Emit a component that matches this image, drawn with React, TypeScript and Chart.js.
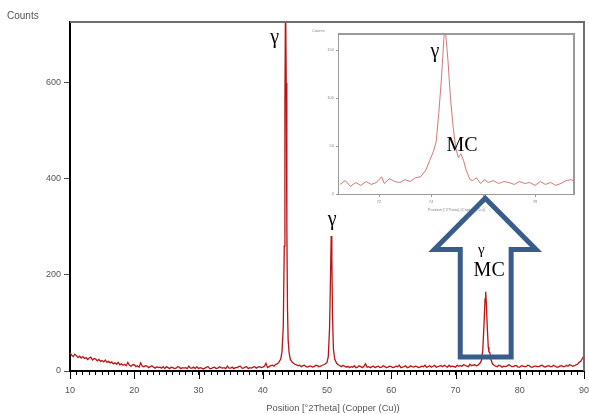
import React, { useEffect, useRef } from 'react';
import { Chart, registerables } from 'chart.js';

Chart.register(...registerables);

// ---------- main scan ----------
const twoTheta = [
  10, 10.25, 10.5, 10.75, 11, 11.25, 11.5, 11.75,
  12, 12.25, 12.5, 12.75, 13, 13.25, 13.5, 13.75,
  14, 14.25, 14.5, 14.75, 15, 15.25, 15.5, 15.75,
  16, 16.25, 16.5, 16.75, 17, 17.25, 17.5, 17.75,
  18, 18.25, 18.5, 18.75, 19, 19.25, 19.5, 19.75,
  20, 20.25, 20.5, 20.75, 21, 21.25, 21.5, 21.75,
  22, 22.25, 22.5, 22.75, 23, 23.25, 23.5, 23.75,
  24, 24.25, 24.5, 24.75, 25, 25.25, 25.5, 25.75,
  26, 26.25, 26.5, 26.75, 27, 27.25, 27.5, 27.75,
  28, 28.25, 28.5, 28.75, 29, 29.25, 29.5, 29.75,
  30, 30.25, 30.5, 30.75, 31, 31.25, 31.5, 31.75,
  32, 32.25, 32.5, 32.75, 33, 33.25, 33.5, 33.75,
  34, 34.25, 34.5, 34.75, 35, 35.25, 35.5, 35.75,
  36, 36.25, 36.5, 36.75, 37, 37.25, 37.5, 37.75,
  38, 38.25, 38.5, 38.75, 39, 39.25, 39.5, 39.75,
  40, 40.25, 40.5, 40.75, 41, 41.25, 41.5, 41.75,
  42, 42.25,
  42.5, 42.8, 43, 43.2, 43.35, 43.45, 43.55, 43.65, 43.75, 43.85, 43.95, 44.1, 44.3, 44.6, 45,
  45.25, 45.5, 45.75, 46, 46.25, 46.5, 46.75, 47, 47.25, 47.5,
  47.75, 48, 48.25, 48.5, 48.75, 49, 49.25, 49.5, 49.75,
  50, 50.2, 50.4, 50.55, 50.65, 50.75, 50.85, 51, 51.2, 51.5,
  51.75, 52, 52.25, 52.5, 52.75, 53, 53.25, 53.5,
  53.75, 54, 54.25, 54.5, 54.75, 55, 55.25, 55.5,
  55.75, 56, 56.25, 56.5, 56.75, 57, 57.25, 57.5,
  57.75, 58, 58.25, 58.5, 58.75, 59, 59.25, 59.5,
  59.75, 60, 60.25, 60.5, 60.75, 61, 61.25, 61.5,
  61.75, 62, 62.25, 62.5, 62.75, 63, 63.25, 63.5,
  63.75, 64, 64.25, 64.5, 64.75, 65, 65.25, 65.5,
  65.75, 66, 66.25, 66.5, 66.75, 67, 67.25, 67.5,
  67.75, 68, 68.25, 68.5, 68.75, 69, 69.25, 69.5,
  69.75, 70, 70.25, 70.5, 70.75, 71, 71.25, 71.5,
  71.75, 72, 72.25, 72.5, 72.75, 73, 73.25, 73.5,
  73.8, 74.05, 74.25, 74.45, 74.6, 74.7, 74.8, 74.95, 75.1, 75.2, 75.35, 75.5, 75.75,
  76, 76.25, 76.5, 76.75, 77, 77.25, 77.5, 77.75,
  78, 78.25, 78.5, 78.75, 79, 79.25, 79.5, 79.75,
  80, 80.25, 80.5, 80.75, 81, 81.25, 81.5, 81.75,
  82, 82.25, 82.5, 82.75, 83, 83.25, 83.5, 83.75,
  84, 84.25, 84.5, 84.75, 85, 85.25, 85.5, 85.75,
  86, 86.25, 86.5, 86.75, 87, 87.25, 87.5, 87.75,
  88, 88.25, 88.5, 88.75, 89, 89.25, 89.5, 89.75,
  90,
];

const counts = [
  38, 33, 30, 35, 32, 28, 31, 27,
  30, 26, 28, 24, 27, 29, 23, 26,
  25, 21, 24, 20, 22, 19, 23, 18,
  20, 17, 19, 15, 17, 14, 18, 13,
  15, 12, 14, 11, 18, 12, 10, 13,
  13, 9, 11, 8, 17, 10, 9, 11,
  10, 7, 9, 11, 8, 6, 9, 7,
  8, 6, 9, 5, 9, 7, 5, 8,
  7, 5, 6, 9, 8, 5, 7, 6,
  7, 5, 10, 6, 6, 8, 5, 9,
  5, 7, 6, 4, 6, 8, 9, 5,
  5, 7, 8, 5, 6, 9, 7, 6,
  7, 5, 10, 6, 6, 8, 5, 7,
  7, 9, 10, 6, 6, 8, 9, 5,
  7, 6, 8, 9, 6, 8, 9, 7,
  8, 10, 16, 7, 9, 11, 12, 10,
  14, 15,
  18, 25, 40, 95, 260, 560, 790, 600, 300, 130, 65, 38, 24, 18, 14,
  13, 11, 12, 9, 11, 12, 9, 8, 10, 10,
  8, 9, 12, 11, 9, 10, 12, 13, 15,
  18, 30, 90, 200, 281, 240, 120, 45, 25, 16,
  13, 11, 9, 12, 10, 8, 10, 7,
  9, 8, 11, 7, 8, 11, 9, 7,
  10, 15, 8, 9, 7, 9, 10, 7,
  9, 10, 7, 8, 11, 9, 7, 8,
  10, 9, 7, 8, 10, 9, 12, 7,
  8, 9, 11, 7, 8, 11, 9, 8,
  10, 9, 7, 8, 10, 9, 12, 8,
  9, 11, 8, 10, 12, 8, 9, 10,
  11, 9, 12, 10, 8, 12, 9, 10,
  9, 8, 12, 10, 11, 10, 13, 12,
  10, 9, 14, 11, 12, 13, 11, 12,
  16, 22, 45, 100, 150, 165, 140, 90, 50, 40, 38, 25, 15,
  12, 10, 9, 12, 11, 8, 10, 9,
  10, 13, 12, 9, 9, 11, 11, 8,
  8, 11, 10, 9, 9, 12, 11, 8,
  8, 10, 10, 9, 9, 11, 12, 9,
  8, 10, 11, 9, 9, 12, 10, 8,
  8, 10, 11, 9, 9, 12, 10, 13,
  12, 10, 11, 13, 14, 18, 20, 26,
  32,
];

const mainXTicks = [10, 20, 30, 40, 50, 60, 70, 80, 90];
const mainYTicks = [0, 200, 400, 600];

// ---------- inset (zoom on the 74-75 deg peak) ----------
const insetTheta = [
  70.5, 70.7, 70.9, 71.1, 71.3, 71.5, 71.7, 71.9, 72.1, 72.2,
  72.4, 72.6, 72.8, 73.0, 73.2, 73.4, 73.6, 73.8, 73.95, 74.1,
  74.2, 74.3, 74.4, 74.5, 74.55, 74.65, 74.75, 74.85, 74.95, 75.05,
  75.15, 75.25, 75.35, 75.5, 75.6, 75.75, 75.9, 76.05, 76.2, 76.4,
  76.6, 76.8, 77.0, 77.2, 77.4, 77.6, 77.8, 78.0, 78.2, 78.4,
  78.6, 78.8, 79.0, 79.2, 79.4, 79.5,
];
const insetCounts = [
  10, 14, 8, 12, 9, 13, 10, 12, 18, 11,
  16, 13, 12, 15, 13, 17, 18, 25, 35, 45,
  55, 85, 120, 165, 172, 140, 100, 70, 48, 38,
  42, 35, 25, 15, 14, 17, 11, 15, 12, 14,
  11, 13, 12, 10, 13, 11, 12, 9, 13, 10,
  12, 9, 11, 14, 15, 13,
];
const insetXTicks = [72, 74, 76, 78];
const insetYTicks = [0, 50, 100, 150];

const xTitle = 'Position [°2Theta] (Copper (Cu))';
const yTitle = 'Counts';

// annotations (data coordinates)
const mainLabels = [
  { text: 'γ', x: 41.84, y: 694, size: 20 },
  { text: 'γ', x: 50.8, y: 315, size: 20 },
  { text: 'γ', x: 74.0, y: 252, size: 15 },
  { text: 'MC', x: 75.24, y: 208, size: 20 },
];
const insetLabels = [
  { text: 'γ', x: 74.15, y: 148, size: 20 },
  { text: 'MC', x: 75.19, y: 50, size: 20 },
];
const arrowShape = {
  tipX: 74.62, tipY: 360,
  headLeft: 66.7, headRight: 82.54, headY: 253,
  shaftLeft: 70.74, shaftRight: 78.66, baseY: 29,
};

const SANS = "'Liberation Sans', Arial, sans-serif";
const SERIF = "'Liberation Serif', 'Times New Roman', serif";

export default function App() {
  const mainRef = useRef<HTMLCanvasElement>(null);
  const insetRef = useRef<HTMLCanvasElement>(null);

  useEffect(() => {
    if (!mainRef.current || !insetRef.current) return;

    const mainPlugin = {
      id: 'mainOverlay',
      afterDraw(chart: any) {
        const { ctx, chartArea: a, scales } = chart;
        const x = scales.x, y = scales.y;
        ctx.save();
        ctx.strokeStyle = '#6e6e6e';
        ctx.lineWidth = 2;
        ctx.beginPath();
        ctx.moveTo(a.left, a.top);
        ctx.lineTo(a.right, a.top);
        ctx.lineTo(a.right, a.bottom);
        ctx.stroke();
        ctx.strokeStyle = '#000';
        ctx.lineWidth = 1;
        mainXTicks.forEach((v) => {
          const px = Math.round(x.getPixelForValue(v)) + 0.5;
          ctx.beginPath();
          ctx.moveTo(px, a.bottom);
          ctx.lineTo(px, a.bottom + 8);
          ctx.stroke();
        });
        const s = arrowShape;
        ctx.strokeStyle = '#385D8A';
        ctx.lineWidth = 5;
        ctx.lineJoin = 'miter';
        ctx.beginPath();
        ctx.moveTo(x.getPixelForValue(s.tipX), y.getPixelForValue(s.tipY));
        ctx.lineTo(x.getPixelForValue(s.headRight), y.getPixelForValue(s.headY));
        ctx.lineTo(x.getPixelForValue(s.shaftRight), y.getPixelForValue(s.headY));
        ctx.lineTo(x.getPixelForValue(s.shaftRight), y.getPixelForValue(s.baseY));
        ctx.lineTo(x.getPixelForValue(s.shaftLeft), y.getPixelForValue(s.baseY));
        ctx.lineTo(x.getPixelForValue(s.shaftLeft), y.getPixelForValue(s.headY));
        ctx.lineTo(x.getPixelForValue(s.headLeft), y.getPixelForValue(s.headY));
        ctx.closePath();
        ctx.stroke();
        ctx.fillStyle = '#000';
        ctx.textAlign = 'center';
        ctx.textBaseline = 'middle';
        mainLabels.forEach((l) => {
          ctx.font = `${l.size}px ${SERIF}`;
          ctx.fillText(l.text, x.getPixelForValue(l.x), y.getPixelForValue(l.y));
        });
        ctx.fillStyle = '#555';
        ctx.font = `10px ${SANS}`;
        ctx.textAlign = 'left';
        ctx.fillText(yTitle, 7, 16);
        ctx.textAlign = 'center';
        ctx.font = `9.3px ${SANS}`;
        ctx.fillText(xTitle, 333, 408);
        ctx.restore();
      },
    };

    const main = new Chart(mainRef.current, {
      type: 'line',
      data: {
        datasets: [
          {
            data: twoTheta.map((t, i) => ({ x: t, y: counts[i] })),
            borderColor: 'rgb(185,20,20)',
            borderWidth: 1.3,
            pointRadius: 0,
            tension: 0,
            fill: false,
          },
        ],
      },
      options: {
        animation: false,
        responsive: false,
        maintainAspectRatio: false,
        layout: { padding: { left: 0, top: 22, right: 5, bottom: 0 } },
        plugins: { legend: { display: false }, tooltip: { enabled: false } },
        scales: {
          x: {
            type: 'linear',
            min: 10,
            max: 90,
            afterFit: (s: any) => { s.height = 43; s.paddingLeft = 0; s.paddingRight = 0; },
            afterBuildTicks: (s: any) => {
              const t: any[] = [];
              for (let v = 10; v <= 90; v++) t.push({ value: v });
              s.ticks = t;
            },
            ticks: {
              autoSkip: false,
              maxRotation: 0,
              padding: 10,
              color: '#555',
              font: { family: SANS, size: 9 },
              callback: (v: any) => (mainXTicks.includes(v) ? String(v) : ''),
            },
            grid: { drawOnChartArea: false, tickLength: 4, color: '#000', tickColor: '#000' },
            border: { color: '#000', width: 2 },
          },
          y: {
            min: 0,
            max: 727,
            afterFit: (s: any) => { s.width = 70; },
            afterBuildTicks: (s: any) => { s.ticks = mainYTicks.map((v) => ({ value: v })); },
            ticks: {
              padding: 3,
              color: '#555',
              font: { family: SANS, size: 9 },
            },
            grid: { drawOnChartArea: false, tickLength: 6, color: '#555', tickColor: '#555' },
            border: { color: '#000', width: 2 },
          },
        },
      },
      plugins: [mainPlugin],
    } as any);

    const insetPlugin = {
      id: 'insetOverlay',
      beforeDatasetsDraw(chart: any) {
        const { ctx, chartArea: a } = chart;
        ctx.save();
        ctx.fillStyle = '#fff';
        ctx.fillRect(a.left, a.top, a.right - a.left, a.bottom - a.top);
        ctx.restore();
      },
      afterDraw(chart: any) {
        const { ctx, chartArea: a, scales } = chart;
        const x = scales.x, y = scales.y;
        ctx.save();
        ctx.strokeStyle = '#9a9a9a';
        ctx.lineWidth = 2;
        ctx.beginPath();
        ctx.moveTo(a.left, a.top);
        ctx.lineTo(a.right, a.top);
        ctx.lineTo(a.right, a.bottom);
        ctx.stroke();
        ctx.fillStyle = '#000';
        ctx.textAlign = 'center';
        ctx.textBaseline = 'middle';
        insetLabels.forEach((l) => {
          ctx.font = `${l.size}px ${SERIF}`;
          ctx.fillText(l.text, x.getPixelForValue(l.x), y.getPixelForValue(l.y));
        });
        ctx.fillStyle = '#888';
        ctx.font = `4px ${SANS}`;
        ctx.textAlign = 'left';
        ctx.fillText(yTitle, 16, 7);
        ctx.textAlign = 'center';
        ctx.fillText(xTitle, (a.left + a.right) / 2, a.bottom + 16);
        ctx.restore();
      },
    };

    const inset = new Chart(insetRef.current, {
      type: 'line',
      data: {
        datasets: [
          {
            data: insetTheta.map((t, i) => ({ x: t, y: insetCounts[i] })),
            borderColor: 'rgba(205,95,95,0.85)',
            borderWidth: 1,
            pointRadius: 0,
            tension: 0,
            fill: false,
          },
        ],
      },
      options: {
        animation: false,
        responsive: false,
        maintainAspectRatio: false,
        layout: { padding: { left: 0, top: 10, right: 8, bottom: 0 } },
        plugins: { legend: { display: false }, tooltip: { enabled: false } },
        scales: {
          x: {
            type: 'linear',
            min: 70.46,
            max: 79.5,
            afterFit: (s: any) => { s.height = 26; s.paddingLeft = 0; s.paddingRight = 0; },
            afterBuildTicks: (s: any) => { s.ticks = insetXTicks.map((v) => ({ value: v })); },
            ticks: { autoSkip: false, maxRotation: 0, padding: 2, color: '#888', font: { family: SANS, size: 4 } },
            grid: { drawOnChartArea: false, tickLength: 3, color: '#999', tickColor: '#999' },
            border: { color: '#9a9a9a', width: 2 },
          },
          y: {
            min: 0,
            max: 167,
            afterFit: (s: any) => { s.width = 43; },
            afterBuildTicks: (s: any) => { s.ticks = insetYTicks.map((v) => ({ value: v })); },
            ticks: { padding: 2, color: '#888', font: { family: SANS, size: 4 } },
            grid: { drawOnChartArea: false, tickLength: 3, color: '#999', tickColor: '#999' },
            border: { color: '#9a9a9a', width: 2 },
          },
        },
      },
      plugins: [insetPlugin],
    } as any);

    return () => {
      main.destroy();
      inset.destroy();
    };
  }, []);

  return (
    <div style={{ position: 'absolute', left: 0, top: 0, width: 589, height: 414, background: '#fff' }}>
      <canvas
        ref={insetRef}
        width={286}
        height={196}
        style={{ position: 'absolute', left: 296, top: 24, width: 286, height: 196, zIndex: 1 }}
      />
      <canvas
        ref={mainRef}
        width={589}
        height={414}
        style={{ position: 'absolute', left: 0, top: 0, width: 589, height: 414, zIndex: 2 }}
      />
    </div>
  );
}
